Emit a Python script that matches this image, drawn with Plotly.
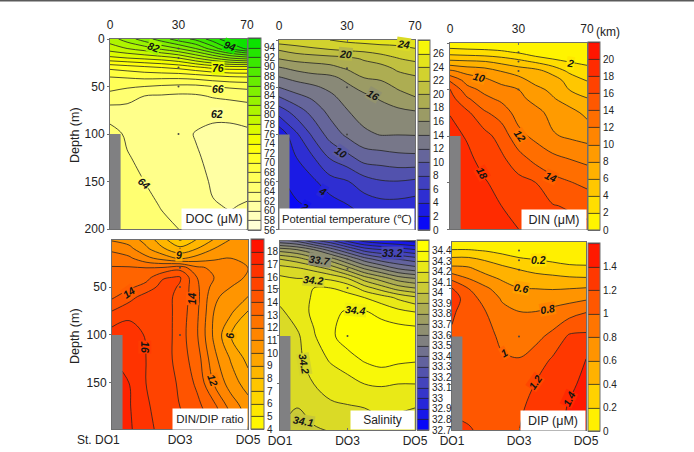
import numpy as np
import plotly.graph_objects as go

W, H = 694, 452

# Section grid: station position along the transect (DO1 = 0, DO3 = 2, DO5 = 4) and depth in metres
position = [0, 0.5, 1, 1.5, 2, 2.5, 3, 3.5, 4]
depth = [0, 10, 20, 30, 40, 50, 60, 75, 100, 125, 150, 175, 200]

# Each inner list is one vertical profile, surface to bottom
doc_profiles = [
    [81, 79, 75.5, 70.5, 68, 66.8, 65.2, 63.3, 64.5, 64.8, 65, 65.2, 65.4],
    [83, 80, 76, 71, 68.2, 66.3, 64.6, 63.5, 63.8, 64.1, 64.6, 65, 65.2],
    [85, 81, 76.5, 71.5, 68.5, 66, 64, 63.2, 63.3, 63.7, 64, 64.5, 65],
    [87, 82.5, 77, 72, 68.5, 65.7, 63.8, 63, 62.9, 63.2, 63.5, 63.9, 64.4],
    [89, 84, 78, 72.5, 68.5, 65.5, 63.6, 63, 62.6, 62.8, 63, 63.5, 64],
    [90.5, 86, 80, 73.5, 68.8, 65.5, 63.7, 62.7, 61.9, 62.2, 62.6, 63, 63.3],
    [93, 89, 82, 74.5, 69.3, 66, 64.2, 62.6, 61.5, 61.6, 61.8, 62.1, 62.6],
    [95.5, 92, 84, 75, 69.8, 66.3, 64.5, 62.7, 61.4, 61.3, 61.5, 61.9, 62.4],
    [95.9, 94.5, 85, 75, 70, 66.5, 64.8, 63, 61.6, 61.3, 61.5, 62.1, 62.5],
]
temperature_profiles = [
    [23.3, 20.2, 18, 15.7, 13.8, 12, 10, 7, 2.5, 2, 1.5, 1, 1],
    [23.5, 21, 18.6, 16.5, 14.6, 13, 11.4, 9, 5.6, 3.9, 2.8, 1.7, 1],
    [23.8, 21.6, 18.8, 17, 15.2, 13.6, 12.4, 10.8, 8.4, 5.8, 3.6, 2.4, 1.5],
    [24, 22, 19.1, 17.3, 15.5, 14.5, 13.5, 12.6, 10.8, 8.1, 5.2, 3, 2],
    [24.5, 22.4, 19.4, 18.2, 16.5, 15.6, 14.9, 13.9, 12.4, 9.3, 5.8, 3.9, 2],
    [24.8, 22.6, 20.2, 19, 18, 16.6, 15.6, 14.9, 13.6, 10.8, 7.1, 4.8, 3],
    [25, 23, 21, 19.2, 18.4, 17, 16.3, 15.3, 14.1, 11, 7.8, 5.3, 3.4],
    [25.3, 23.1, 21.9, 20.4, 19.2, 18.3, 17.1, 15.7, 14.05, 11.4, 7.9, 5.3, 3.4],
    [25.5, 23.8, 22.5, 20.7, 19.8, 18.9, 18, 16, 14.1, 11.5, 7.6, 5, 3.5],
]
din_profiles = [
    [0.5, 3.1, 6.5, 10.3, 13.7, 16.1, 16.8, 17.9, 18.7, 19.2, 19.5, 19.7, 20],
    [0.3, 2.9, 6.3, 9.3, 11.2, 12.7, 14.3, 16.4, 17.8, 18.5, 19, 19.3, 19.6],
    [0.3, 2.7, 6.1, 8.9, 10.4, 11.5, 12.5, 14.3, 16.7, 17.3, 18.2, 19, 19.4],
    [0.1, 2.4, 5.4, 7.9, 9.4, 10.7, 11.6, 13.1, 15.2, 16.4, 17.3, 18, 18.6],
    [0.05, 1.8, 4.6, 7.1, 8.7, 10, 10.5, 11.2, 12.6, 14.9, 16.6, 17.4, 18],
    [0.05, 0.7, 3.7, 6.6, 7.3, 8.6, 9.4, 10.6, 11.5, 13.4, 16, 17, 17.5],
    [0.05, 0.2, 2.7, 5.3, 6.9, 7.5, 8.2, 9.4, 10.2, 12.6, 14.7, 16.1, 17],
    [0.05, 0.05, 1.9, 3.5, 5.2, 5.9, 7, 8.7, 9.7, 12, 14.1, 15.8, 16.6],
    [0.05, 0.05, 1.4, 2.9, 3.9, 5.1, 6.1, 7.5, 9.3, 11.5, 13.5, 15.3, 16.5],
]
ratio_profiles = [
    [10.8, 11.8, 12.4, 13.1, 13.4, 13.6, 13.8, 15, 16.5, 17, 17.2, 17.3, 17.4],
    [10.5, 11.3, 12.2, 13.1, 13.4, 13.8, 14.6, 15.6, 16.6, 16.9, 17, 17.1, 17.2],
    [9.6, 10.2, 11.3, 13, 13.6, 14.4, 15.4, 15.7, 15.9, 16, 16, 16.1, 16.2],
    [8.3, 9.1, 10.6, 13.1, 14.9, 15.4, 15.4, 15.5, 15.6, 15.6, 15.7, 15.7, 15.8],
    [6.8, 8.3, 9.8, 13.6, 15.1, 14.9, 14.7, 14.6, 14.5, 14.5, 14.8, 15, 15.2],
    [8, 9, 10.4, 12.2, 13, 13.2, 13.3, 13.2, 13.1, 13.5, 13.8, 14.3, 14.9],
    [9, 10, 10.8, 11.8, 12, 11.6, 11.2, 11, 10.8, 11.3, 11.9, 13.3, 14],
    [10, 10.6, 11, 11.3, 11.3, 11, 10.6, 10.2, 9, 9.9, 10.5, 11.6, 12.6],
    [10.8, 10.8, 11, 11, 10.9, 10.4, 10, 9, 8, 8.7, 9.5, 10.5, 11],
]
salinity_profiles = [
    [33.4, 33.75, 34, 34.15, 34.22, 34.24, 34.23, 34.18, 34.15, 34.15, 34.13, 34.12, 34.1],
    [33.35, 33.7, 33.95, 34.12, 34.2, 34.26, 34.26, 34.25, 34.18, 34.17, 34.14, 34.1, 34.07],
    [33.2, 33.6, 33.85, 34.07, 34.2, 34.3, 34.31, 34.32, 34.29, 34.25, 34.2, 34.15, 34.08],
    [33.1, 33.45, 33.75, 33.98, 34.18, 34.3, 34.34, 34.38, 34.38, 34.31, 34.24, 34.18, 34.1],
    [32.95, 33.3, 33.6, 33.85, 34.1, 34.27, 34.33, 34.41, 34.45, 34.36, 34.26, 34.19, 34.12],
    [32.85, 33.15, 33.45, 33.7, 33.95, 34.15, 34.3, 34.41, 34.47, 34.41, 34.3, 34.2, 34.15],
    [32.8, 33.1, 33.35, 33.6, 33.85, 34.05, 34.25, 34.37, 34.47, 34.44, 34.31, 34.22, 34.16],
    [32.78, 33.05, 33.3, 33.5, 33.75, 33.95, 34.18, 34.33, 34.47, 34.42, 34.3, 34.21, 34.16],
    [32.75, 33, 33.25, 33.45, 33.7, 33.9, 34.12, 34.3, 34.47, 34.41, 34.3, 34.2, 34.16],
]
dip_profiles = [
    [0.02, 0.22, 0.47, 0.68, 0.97, 1.22, 1.3, 1.22, 1.18, 1.12, 1.12, 1.17, 1.25],
    [0.02, 0.22, 0.47, 0.65, 0.81, 1, 1.1, 1.13, 1.12, 1.1, 1.1, 1.13, 1.23],
    [0.02, 0.19, 0.39, 0.53, 0.69, 0.84, 0.91, 1.01, 1.08, 1.1, 1.1, 1.1, 1.14],
    [0.02, 0.14, 0.31, 0.47, 0.58, 0.7, 0.78, 0.85, 0.95, 1.03, 1.08, 1.12, 1.13],
    [0.02, 0.09, 0.24, 0.4, 0.51, 0.61, 0.69, 0.81, 0.92, 1.01, 1.1, 1.18, 1.2],
    [0.02, 0.05, 0.21, 0.35, 0.48, 0.6, 0.68, 0.81, 0.95, 1.09, 1.21, 1.24, 1.26],
    [0.02, 0.02, 0.17, 0.32, 0.46, 0.59, 0.71, 0.86, 1.05, 1.23, 1.27, 1.3, 1.32],
    [0.02, 0.02, 0.13, 0.28, 0.44, 0.6, 0.73, 0.93, 1.23, 1.31, 1.36, 1.42, 1.43],
    [0.02, 0.02, 0.12, 0.27, 0.43, 0.62, 0.77, 1, 1.24, 1.41, 1.45, 1.47, 1.48],
]

# Sill at the DO1 end of the section and the sampled depths at DO3
sill_position = [0, 0.31, 0.31, 0]
sill_depth = [100, 100, 200, 200]
sample_position = [2, 2, 2, 2, 2]
sample_depth = [10, 20, 30, 50, 100]

km_ticks = [0, 30, 70]
station_ticks = ["DO1", "DO3", "DO5"]
depth_ticks = [0, 50, 100, 150, 200]

# (position, depth, text, angle) for the isoline labels of each panel
doc_labels = [(1.27, 8, "82", 20), (3.51, 7, "94", 20), (3.14, 30.5, "76", 0),
              (3.14, 52.6, "66", 0), (3.12, 79, "62", 0), (0.98, 152, "64", 40)]
temp_labels = [(3.66, 4.6, "24", 8), (1.97, 15, "20", 5), (2.77, 58.7, "16", 30),
               (1.81, 118.7, "10", 35), (1.28, 160, "4", 30), (0.76, 177, "2", 30)]
din_labels = [(3.51, 21, "2", 10), (0.84, 37, "10", 15), (2.05, 100, "12", 55),
              (2.96, 143.6, "14", 25), (0.93, 140, "18", 60)]
ratio_labels = [(1.98, 17, "9", 0), (0.51, 55.6, "14", -35), (0.95, 113, "16", 90),
                (2.37, 62.6, "14", -90), (3.48, 101, "9", 90), (2.96, 147, "12", 70)]
salinity_labels = [(3.34, 14, "33.2", 0), (1.19, 21, "33.7", 8), (0.99, 42, "34.2", 5),
                   (2.25, 72.6, "34.4", 5), (0.72, 129, "34.2", 80), (0.69, 189, "34.1", 10)]
dip_labels = [(2.59, 19.4, "0.2", 0), (2.07, 48.8, "0.6", 10), (2.84, 70.7, "0.8", -10),
              (1.54, 117, "1", -30), (2.49, 148, "1.2", -55), (3.48, 165, "1.4", -65)]

yellow_red = [[0, "rgb(255,255,0)"], [1, "rgb(255,10,0)"]]
blue_gray_yellow = [[0, "rgb(0,0,255)"], [0.5, "rgb(128,128,128)"], [1, "rgb(255,255,0)"]]
pale_green = [[0, "rgb(255,255,225)"], [0.45, "rgb(255,255,0)"], [1, "rgb(0,225,0)"]]

panels = [
    dict(z=doc_profiles, start=56, end=96, step=2, scale=pale_green, labels=doc_labels,
         box=(110, 247, 39, 229), bar=(248, 261, 38, 230), yrange=(0, 200),
         name="DOC (μM)", name_box=(182, 246, 209, 229), name_size=12.5),
    dict(z=temperature_profiles, start=0, end=28, step=2, scale=blue_gray_yellow, labels=temp_labels,
         box=(279, 415, 40, 229), bar=(418, 430, 40, 230), yrange=(0, 200),
         name="Potential temperature (℃)", name_box=(280, 414, 209, 229), name_size=11.3),
    dict(z=din_profiles, start=0, end=22, step=2, scale=yellow_red, labels=din_labels,
         box=(450, 587, 43, 229), bar=(588, 600, 42, 230), yrange=(0, 200),
         name="DIN (μM)", name_box=(522, 586, 210, 229), name_size=12.5),
    dict(z=ratio_profiles, start=4, end=19, step=1, scale=yellow_red, labels=ratio_labels,
         box=(112, 248, 240, 429), bar=(251, 264, 239, 429), yrange=(1, 198),
         name="DIN/DIP ratio", name_box=(173, 247, 409, 429), name_size=11.5),
    dict(z=salinity_profiles, start=32.7, end=34.5, step=0.1, scale=blue_gray_yellow, labels=salinity_labels,
         box=(280, 415, 241, 430), bar=(417, 429, 240, 430), yrange=(1, 198),
         name="Salinity", name_box=(351, 414, 411, 429), name_size=12),
    dict(z=dip_profiles, start=0, end=1.6, step=0.2, scale=yellow_red, labels=dip_labels,
         box=(452, 586, 242, 430), bar=(588, 600, 243, 431), yrange=(1, 198),
         name="DIP (μM)", name_box=(521, 585, 411, 430), name_size=12.5),
]

FONT = "Liberation Sans, Arial, sans-serif"
INK = "rgb(35,35,35)"
FRAME = "rgb(110,110,110)"


def level_colour(p, value):
    """Colour of the scale at an isoline value, used behind its label."""
    frac = (value - p["start"]) / (p["end"] - p["start"])
    frac = min(max(frac, 0), 1)
    stops = p["scale"]
    for (a, ca), (b, cb) in zip(stops, stops[1:]):
        if frac <= b:
            t = (frac - a) / (b - a)
            rgb_a = [int(v) for v in ca[4:-1].split(",")]
            rgb_b = [int(v) for v in cb[4:-1].split(",")]
            mix = [round(u + (v - u) * t) for u, v in zip(rgb_a, rgb_b)]
            return f"rgb({mix[0]},{mix[1]},{mix[2]})"
    return stops[-1][1]


def page_text(x_px, y_px, text, size, **extra):
    """Text placed by page position, centred on the given point unless overridden."""
    spec = dict(x=x_px / W, y=1 - y_px / H, xref="paper", yref="paper", text=text,
                showarrow=False, xanchor="center", yanchor="middle",
                font=dict(family=FONT, size=size, color=INK))
    spec.update(extra)
    return spec


fig = go.Figure()
annotations = []

for i, p in enumerate(panels):
    n = i + 1
    xref, yref = f"x{n}", f"y{n}"
    left, right, top, bottom = p["box"]
    b_left, b_right, b_top, b_bottom = p["bar"]
    level_count = round((p["end"] - p["start"]) / p["step"])
    bar_ticks = [round(p["start"] + k * p["step"], 1) for k in range(level_count)]

    fig.add_trace(go.Contour(
        x=position, y=depth, z=np.array(p["z"]).T, xaxis=xref, yaxis=yref,
        autocontour=False, zmin=p["start"], zmax=p["end"],
        contours=dict(start=p["start"], end=p["end"], size=p["step"], coloring="fill"),
        colorscale=p["scale"],
        line=dict(color=INK, width=0.8, smoothing=1),
        hoverinfo="skip",
        colorbar=dict(
            x=b_left / W, xanchor="left", xpad=0, ypad=0,
            y=1 - (b_top + b_bottom) / 2 / H, yanchor="middle",
            len=(b_bottom - b_top) / H, lenmode="fraction",
            thickness=b_right - b_left, thicknessmode="pixels",
            tickmode="array", tickvals=bar_ticks, ticktext=[f"{v:g}" for v in bar_ticks],
            ticks="",
            tickfont=dict(family=FONT, size=10, color=INK),
            outlinecolor=FRAME, outlinewidth=1, borderwidth=0,
        ),
    ))
    fig.add_trace(go.Scatter(
        x=sill_position, y=sill_depth, xaxis=xref, yaxis=yref, mode="lines",
        fill="toself", fillcolor="rgb(128,128,130)", line=dict(width=0),
        hoverinfo="skip", showlegend=False,
    ))
    fig.add_trace(go.Scatter(
        x=sample_position, y=sample_depth, xaxis=xref, yaxis=yref, mode="markers",
        marker=dict(size=2, color="rgb(70,70,70)"), hoverinfo="skip", showlegend=False,
    ))

    upper_row = i < 3
    suffix = "" if n == 1 else str(n)
    fig.update_layout({
        f"xaxis{suffix}": dict(
            domain=[left / W, right / W], range=[0, 4], anchor=yref,
            side="top" if upper_row else "bottom",
            tickmode="array", tickvals=[0, 2, 4],
            ticktext=[str(k) for k in km_ticks] if upper_row else ["" if i == 3 else station_ticks[0], *station_ticks[1:]],
            ticks="inside", ticklen=2, tickcolor=FRAME, ticklabelstandoff=4 if upper_row else 0,
            tickfont=dict(family=FONT, size=12, color=INK),
            showgrid=False, zeroline=False, mirror=True,
            showline=True, linecolor=FRAME, linewidth=1,
        ),
        f"yaxis{suffix}": dict(
            domain=[1 - bottom / H, 1 - top / H], range=[p["yrange"][1], p["yrange"][0]], anchor=xref,
            tickmode="array", tickvals=depth_ticks,
            showticklabels=i in (0, 3), ticks="outside", ticklen=2, tickcolor=FRAME,
            tickfont=dict(family=FONT, size=12, color=INK),
            showgrid=False, zeroline=False, mirror=True,
            showline=True, linecolor=FRAME, linewidth=1,
        ),
    })

    for x_val, d_val, text, angle in p["labels"]:
        annotations.append(dict(
            x=x_val, y=d_val, xref=xref, yref=yref, text=f"<b><i>{text}</i></b>", textangle=angle,
            showarrow=False, font=dict(family=FONT, size=10.5, color="rgb(20,20,20)"),
            bgcolor=level_colour(p, float(text)), borderpad=0,
        ))

    n_left, n_right, n_top, n_bottom = p["name_box"]
    annotations.append(page_text(
        (n_left + n_right) / 2, (n_top + n_bottom) / 2, p["name"], p["name_size"],
        width=n_right - n_left, height=n_bottom - n_top, bgcolor="white",
        borderpad=0, align="center", valign="middle",
    ))

annotations.append(page_text(75, 135, "Depth (m)", 12.5, textangle=-90))
annotations.append(page_text(75, 336, "Depth (m)", 12.5, textangle=-90))
annotations.append(page_text(622, 32, "(km)", 12, xanchor="right"))
annotations.append(page_text(122, 440, "St. DO1", 12, xanchor="right"))

fig.update_layout(
    width=W, height=H, margin=dict(l=0, r=0, t=0, b=0, autoexpand=False),
    paper_bgcolor="white", plot_bgcolor="white", showlegend=False,
    annotations=annotations,
    shapes=[dict(type="rect", xref="paper", yref="paper", x0=0, x1=1, y0=1 - 1.5 / H, y1=1,
                 fillcolor="rgb(90,90,90)", line=dict(width=0))],
)

fig.write_html("out.html")
